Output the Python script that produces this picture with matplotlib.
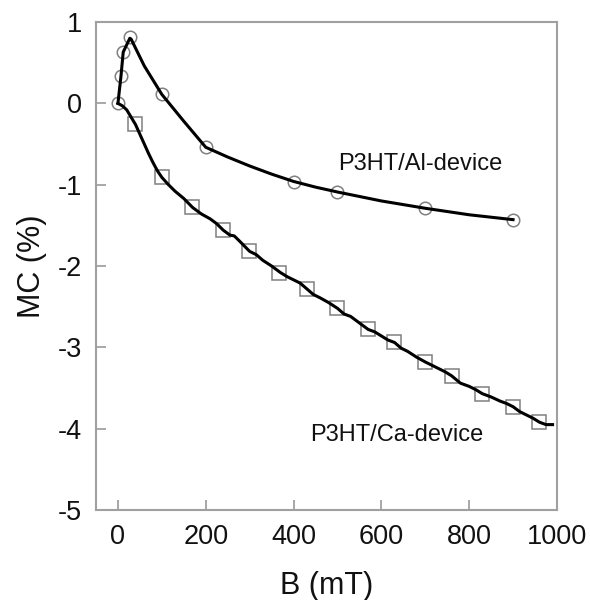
import matplotlib.pyplot as plt

plt.rcParams['font.family'] = ['Liberation Sans', 'DejaVu Sans']

# P3HT/Al device: measured points and drawn curve
al_b = [0, 7, 12, 27, 100, 200, 400, 500, 700, 900]
al_mc = [0, 0.34, 0.63, 0.82, 0.12, -0.54, -0.97, -1.09, -1.29, -1.43]
al_line_b = [0, 7, 12, 27, 30, 60, 100, 150, 200, 250, 300, 350, 400, 450, 500, 600, 700, 800, 900]
al_line_mc = [0, 0.34, 0.63, 0.80, 0.79, 0.46, 0.11, -0.22, -0.54, -0.66, -0.77, -0.87, -0.96, -1.03, -1.09, -1.20, -1.29, -1.37, -1.43]

# P3HT/Ca device
ca_b = [0, 39, 100, 168, 239, 298, 367, 430, 499, 569, 629, 699, 761, 829, 900, 959]
ca_mc = [0, -0.25, -0.91, -1.28, -1.56, -1.82, -2.08, -2.28, -2.52, -2.78, -2.94, -3.18, -3.35, -3.57, -3.73, -3.92]
ca_line_b = [0, 10, 20, 30, 40, 50, 60, 70, 80, 90, 100, 115, 130, 150, 170, 190, 210, 225, 240,
             255, 265, 280, 300, 315, 330, 350, 370, 385, 400, 415, 430, 445, 460, 480, 500, 515,
             530, 550, 570, 585, 600, 615, 630, 645, 660, 680, 700, 715, 730, 745, 760, 780, 800,
             815, 830, 850, 870, 885, 900, 915, 930, 945, 960, 975, 990]
ca_line_mc = [0, -0.03, -0.08, -0.17, -0.26, -0.38, -0.50, -0.62, -0.73, -0.83, -0.91, -1.00, -1.08,
              -1.17, -1.28, -1.36, -1.42, -1.48, -1.56, -1.62, -1.63, -1.71, -1.82, -1.86, -1.93,
              -2.00, -2.08, -2.13, -2.17, -2.21, -2.28, -2.35, -2.39, -2.45, -2.52, -2.59, -2.62,
              -2.70, -2.78, -2.81, -2.86, -2.91, -2.94, -3.01, -3.05, -3.12, -3.18, -3.22, -3.26,
              -3.30, -3.35, -3.44, -3.48, -3.52, -3.57, -3.61, -3.66, -3.69, -3.73, -3.79, -3.83,
              -3.87, -3.92, -3.95, -3.95]

x_ticks = [0, 200, 400, 600, 800, 1000]
y_ticks = [1, 0, -1, -2, -3, -4, -5]

fig = plt.figure(figsize=(5.9, 6), dpi=100)
ax = fig.add_axes([0.1627, 0.15, 0.7813, 0.8133])

ax.plot(al_line_b, al_line_mc, color='black', lw=2.2, zorder=3)
ax.plot(al_b, al_mc, 'o', ms=9, mfc='none', mec='#808080', mew=1.1, zorder=2)
ax.plot(ca_line_b, ca_line_mc, color='black', lw=2.2, zorder=3)
ax.plot(ca_b[1:], ca_mc[1:], 's', ms=9.5, mfc='none', mec='#808080', mew=1.1, zorder=2)

ax.text(688, -0.75, 'P3HT/Al-device', fontsize=17, ha='center', va='center', color='#111111')
ax.text(636, -4.08, 'P3HT/Ca-device', fontsize=17, ha='center', va='center', color='#111111')

ax.set_xlim(-50, 1000)
ax.set_ylim(-5, 1)
ax.set_xticks(x_ticks)
ax.set_yticks(y_ticks)
ax.set_xticklabels([str(v) for v in x_ticks])
ax.set_yticklabels([str(v) for v in y_ticks])
ax.tick_params(direction='in', length=7, width=1.2, color='#999999', labelsize=19.5,
               labelcolor='#111111', pad=10, top=False, right=False)
for s in ax.spines.values():
    s.set_color('#a0a0a0')
    s.set_linewidth(1.5)

ax.set_xlabel('B (mT)', fontsize=22, labelpad=15, color='#111111')
ax.set_ylabel('MC (%)', fontsize=22, labelpad=8, color='#111111')

fig.savefig('out.png', dpi=100)
